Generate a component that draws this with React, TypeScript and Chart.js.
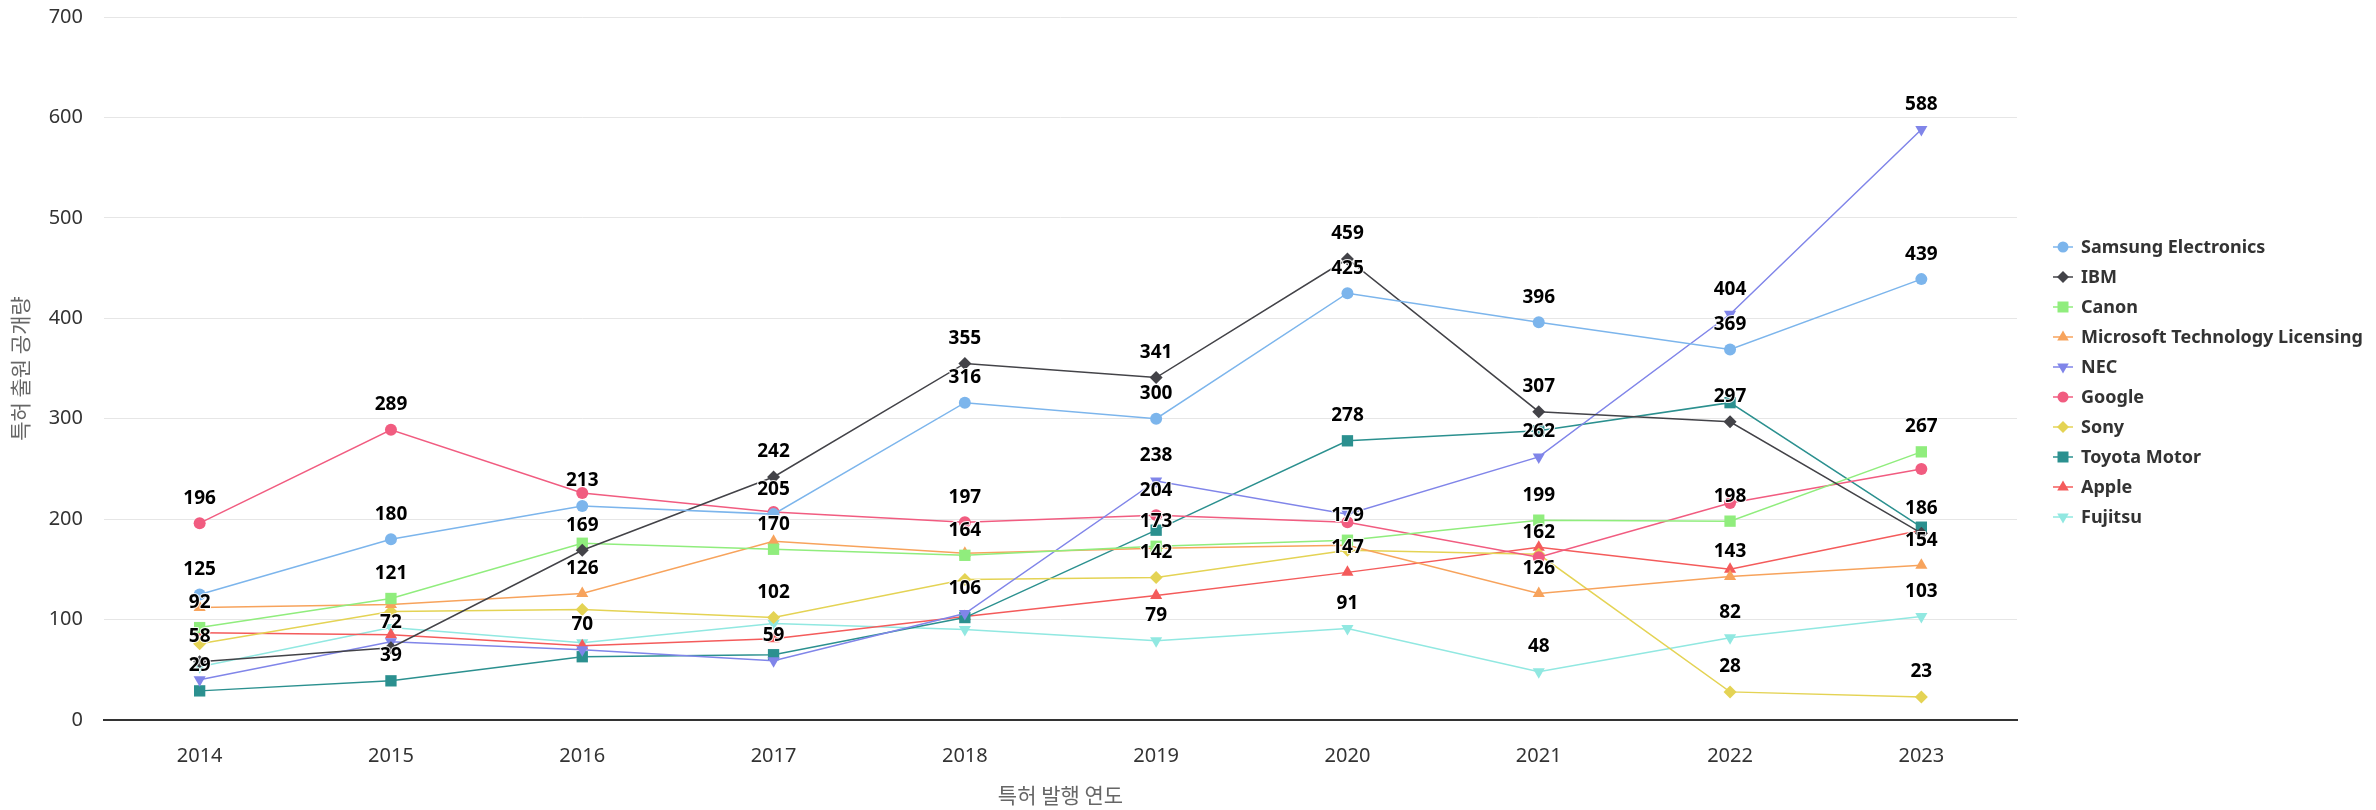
import React, { useEffect, useRef } from 'react';
import { Chart, registerables } from 'chart.js';

Chart.register(...registerables);

const years = ['2014', '2015', '2016', '2017', '2018', '2019', '2020', '2021', '2022', '2023'];

const samsung = [125, 180, 213, 205, 316, 300, 425, 396, 369, 439];
const ibm = [58, 72, 169, 242, 355, 341, 459, 307, 297, 186];
const canon = [92, 121, 176, 170, 164, 173, 179, 199, 198, 267];
const microsoft = [112, 115, 126, 178, 166, 171, 174, 126, 143, 154];
const nec = [40, 78, 70, 59, 106, 238, 205, 262, 404, 588];
const google = [196, 289, 226, 207, 197, 204, 197, 162, 216, 250];
const sony = [76, 108, 110, 102, 140, 142, 169, 165, 28, 23];
const toyota = [29, 39, 63, 65, 102, 189, 278, 288, 316, 192];
const apple = [87, 85, 74, 81, 103, 124, 147, 172, 150, 189];
const fujitsu = [53, 92, 77, 96, 90, 79, 91, 48, 82, 103];

const seriesNames = [
  'Samsung Electronics', 'IBM', 'Canon', 'Microsoft Technology Licensing', 'NEC',
  'Google', 'Sony', 'Toyota Motor', 'Apple', 'Fujitsu',
];
const seriesValues = [samsung, ibm, canon, microsoft, nec, google, sony, toyota, apple, fujitsu];
const seriesColors = [
  '#7cb5ec', '#434348', '#90ed7d', '#f7a35c', '#8085e9',
  '#f15c80', '#e4d354', '#2b908f', '#f45b5b', '#91e8e1',
];
const seriesSymbols = ['circle', 'diamond', 'square', 'triangle', 'triangle-down',
  'circle', 'diamond', 'square', 'triangle', 'triangle-down'];

const yTickValues = [0, 100, 200, 300, 400, 500, 600, 700];
const xAxisTitle = '특허 발행 연도';
const yAxisTitle = '특허 출원 공개량';

const symbolStyle = (s: string) => {
  switch (s) {
    case 'circle': return { pointStyle: 'circle', radius: 6, rotation: 0 };
    case 'diamond': return { pointStyle: 'rectRot', radius: 6.5, rotation: 0 };
    case 'square': return { pointStyle: 'rect', radius: 8, rotation: 0 };
    case 'triangle': return { pointStyle: 'triangle', radius: 7, rotation: 0 };
    default: return { pointStyle: 'triangle', radius: 7, rotation: 180 };
  }
};

function drawSymbol(ctx: CanvasRenderingContext2D, s: string, x: number, y: number, color: string) {
  ctx.save();
  ctx.fillStyle = color;
  ctx.beginPath();
  if (s === 'circle') {
    ctx.arc(x, y, 5.5, 0, Math.PI * 2);
  } else if (s === 'diamond') {
    ctx.moveTo(x, y - 6); ctx.lineTo(x + 6, y); ctx.lineTo(x, y + 6); ctx.lineTo(x - 6, y);
  } else if (s === 'square') {
    ctx.rect(x - 5.5, y - 5.5, 11, 11);
  } else if (s === 'triangle') {
    ctx.moveTo(x, y - 6.5); ctx.lineTo(x + 5.8, y + 3.5); ctx.lineTo(x - 5.8, y + 3.5);
  } else {
    ctx.moveTo(x, y + 6.5); ctx.lineTo(x + 5.8, y - 3.5); ctx.lineTo(x - 5.8, y - 3.5);
  }
  ctx.closePath();
  ctx.fill();
  ctx.restore();
}

const dataLabelPlugin = {
  id: 'hcDataLabels',
  afterDatasetsDraw(chart: any) {
    const ctx: CanvasRenderingContext2D = chart.ctx;
    ctx.save();
    ctx.font = 'bold 19px "Noto Sans"';
    ctx.textAlign = 'center';
    ctx.textBaseline = 'middle';
    const placed: { l: number; r: number; t: number; b: number }[] = [];
    const n = chart.data.labels.length;
    for (let i = 0; i < n; i++) {
      chart.data.datasets.forEach((ds: any, di: number) => {
        const el = chart.getDatasetMeta(di).data[i];
        if (!el) return;
        const text = String(ds.data[i]);
        const w = ctx.measureText(text).width + 10;
        const h = 28;
        const cx = el.x;
        const cy = el.y - 25;
        const box = { l: cx - w / 2, r: cx + w / 2, t: cy - h / 2, b: cy + h / 2 };
        if (placed.some((p) => box.l < p.r && box.r > p.l && box.t < p.b && box.b > p.t)) return;
        placed.push(box);
        ctx.lineWidth = 2;
        ctx.lineJoin = 'round';
        ctx.strokeStyle = 'rgba(255,255,255,0.9)';
        ctx.strokeText(text, cx, cy);
        ctx.fillStyle = '#000000';
        ctx.fillText(text, cx, cy);
      });
    }
    ctx.restore();
  },
};

const legendPlugin = {
  id: 'hcLegend',
  afterDraw(chart: any) {
    const ctx: CanvasRenderingContext2D = chart.ctx;
    ctx.save();
    const x0 = 2053;
    const y0 = 247;
    const step = 30;
    chart.data.datasets.forEach((ds: any, i: number) => {
      const y = y0 + i * step;
      ctx.strokeStyle = seriesColors[i];
      ctx.lineWidth = 1.5;
      ctx.beginPath();
      ctx.moveTo(x0, y);
      ctx.lineTo(x0 + 20, y);
      ctx.stroke();
      drawSymbol(ctx, seriesSymbols[i], x0 + 10, y, seriesColors[i]);
      ctx.font = 'bold 18px "Noto Sans"';
      ctx.fillStyle = '#333333';
      ctx.textAlign = 'left';
      ctx.textBaseline = 'middle';
      ctx.fillText(ds.label, x0 + 28, y + 1);
    });
    ctx.restore();
  },
};

export default function App() {
  const canvasRef = useRef<HTMLCanvasElement | null>(null);

  useEffect(() => {
    if (!canvasRef.current) return;
    const datasets = seriesNames.map((name, i) => {
      const st = symbolStyle(seriesSymbols[i]);
      return {
        label: name,
        data: seriesValues[i],
        borderColor: seriesColors[i],
        backgroundColor: seriesColors[i],
        borderWidth: 1.5,
        pointStyle: st.pointStyle,
        pointRadius: st.radius,
        pointHoverRadius: st.radius,
        pointRotation: st.rotation,
        pointBackgroundColor: seriesColors[i],
        pointBorderWidth: 0,
        tension: 0,
        fill: false,
      };
    });
    const chart = new Chart(canvasRef.current, {
      type: 'line',
      data: { labels: years, datasets: datasets as any },
      options: {
        animation: false,
        responsive: true,
        maintainAspectRatio: false,
        devicePixelRatio: 1,
        layout: { padding: { top: 17, right: 359, bottom: 0, left: 0 } },
        plugins: {
          legend: { display: false },
          tooltip: { enabled: false },
        },
        scales: {
          x: {
            type: 'category',
            offset: true,
            grid: { display: false, drawTicks: false },
            border: { display: true, color: '#333333', width: 2 },
            ticks: {
              padding: 24,
              color: '#333333',
              font: { family: '"Noto Sans"', size: 20 },
              maxRotation: 0,
            },
            title: {
              display: true,
              text: xAxisTitle,
              color: '#666666',
              font: { family: '"Noto Sans CJK KR"', size: 21 },
              padding: { top: 0, bottom: 2 },
            },
            afterFit: (scale: any) => {
              scale.height = 90;
              scale.paddingLeft = 0;
              scale.paddingRight = 0;
            },
          },
          y: {
            min: 0,
            max: 700,
            afterBuildTicks: (scale: any) => {
              scale.ticks = yTickValues.map((v) => ({ value: v }));
            },
            grid: { color: '#e6e6e6', lineWidth: 1, drawTicks: false },
            border: { display: false },
            ticks: {
              padding: 21,
              color: '#333333',
              font: { family: '"Noto Sans"', size: 20 },
            },
            title: {
              display: true,
              text: yAxisTitle,
              color: '#666666',
              font: { family: '"Noto Sans CJK KR"', size: 21 },
              padding: { top: 7, bottom: 0 },
            },
            afterFit: (scale: any) => {
              scale.width = 104;
              scale.paddingTop = 0;
              scale.paddingBottom = 0;
            },
          },
        },
      },
      plugins: [dataLabelPlugin, legendPlugin],
    });
    return () => { chart.destroy(); };
  }, []);

  return (
    <div style={{ position: 'absolute', left: 0, top: 0, width: 2376, height: 810, background: '#ffffff' }}>
      <canvas ref={canvasRef} />
    </div>
  );
}
